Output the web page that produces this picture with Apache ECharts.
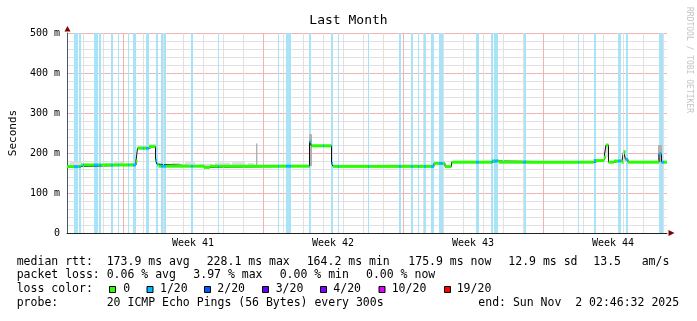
<!DOCTYPE html>
<html>
<head>
<meta charset="utf-8">
<script src="https://cdn.jsdelivr.net/npm/echarts@6/dist/echarts.min.js"></script>
<style>
  html, body { margin: 0; padding: 0; background: #fff; }
  #chart { width: 697px; height: 321px; }
</style>
</head>
<body>
<div id="chart"></div>
<script>
  // x = days since the start of the graph (30 days shown), y = ms
  const medianX = [0, 0.7, 3.45, 3.525, 4.1, 4.425, 4.5, 4.575, 6.85, 7.15, 12.125, 12.225, 13.225, 13.3,
    18.35, 18.9, 19.225, 21.25, 21.6, 26.325, 26.85, 26.95, 27.075, 27.35, 27.75, 27.825, 27.925, 28.05,
    29.6, 29.725, 30]
  const medianY = [166, 170, 180, 212, 216, 182, 172, 167, 164, 167, 228, 218, 174, 166.5,
    174, 166, 177, 180, 177, 181, 189, 220, 177, 180, 177, 203, 184, 177,
    198, 177, 177]

  // periods with 1/20 packet loss
  const lossBands = [[0.35, 0.55], [0.6, 0.7], [0.8, 0.85], [1.35, 1.55], [1.6, 1.7], [2.2, 2.3],
    [2.55, 2.6], [3.05, 3.1], [3.3, 3.45], [3.8, 3.85], [3.95, 4.1], [4.45, 4.55], [4.7, 4.95],
    [6.2, 6.3], [7.55, 7.6], [10.55, 10.6], [10.95, 11.2], [12.1, 12.2], [12.8, 12.85], [13.2, 13.3],
    [13.55, 13.6], [15.05, 15.1], [16.6, 16.7], [17.2, 17.3], [17.55, 17.6], [17.85, 17.95],
    [18.2, 18.35], [18.6, 18.8], [20.45, 20.6], [21.2, 21.3], [21.35, 21.55], [22.8, 22.95],
    [25.55, 25.6], [26.35, 26.45], [27.55, 27.7], [27.95, 28.05], [29.6, 29.85]]

  // smoke: [from, to, top ms, dark]
  const smoke = [[0.15, 0.75, 178, 0], [0.8, 1.15, 174, 0], [1.3, 1.65, 176, 0], [1.9, 2.25, 175, 0],
    [2.35, 2.85, 179, 0], [2.95, 3.3, 175, 0], [3.525, 4.1, 220, 0], [4.1, 4.45, 222, 0],
    [4.55, 5.15, 174, 0], [5.25, 5.65, 176, 0], [5.9, 6.4, 177, 0], [6.65, 7.25, 173, 0],
    [7.4, 8.15, 176, 0], [8.25, 8.9, 177, 0], [9.05, 9.35, 175, 0], [9.45, 9.52, 224, 1],
    [9.65, 10.65, 170, 0], [10.9, 11.9, 170, 0], [12.1, 12.25, 247, 1], [12.25, 13.2, 221, 0],
    [13.65, 15.65, 169, 0], [16.15, 18.15, 171, 0], [19.4, 21.0, 179, 0], [21.8, 23.5, 179, 0],
    [24.0, 26.2, 179, 0], [26.9, 27.1, 222, 0], [27.8, 27.95, 205, 0], [29.55, 29.75, 220, 1]]

  const weekLines = [2.8, 9.8, 16.8, 23.8]
  const weekMid = [6.3, 13.3, 20.3, 27.3]
  const weekNames = ['Week 41', 'Week 42', 'Week 43', 'Week 44']
  const dayLines = []
  for (let d = 0.8; d < 30; d += 1) dayLines.push(Math.round(d * 10) / 10)

  const rttText = ['median rtt:', '173.9 ms avg', '228.1 ms max', '164.2 ms min', '175.9 ms now', '12.9 ms sd', '13.5', 'am/s']
  const lossText = ['packet loss:', '0.06 % avg', '3.97 % max', '0.00 % min', '0.00 % now']
  const lossLabels = ['0', '1/20', '2/20', '3/20', '4/20', '10/20', '19/20']
  const lossColors = ['#26ff00', '#00b8ff', '#0059ff', '#5e00ff', '#7e00ff', '#dd00ff', '#ff0000']
  const probeText = ['probe:', '20 ICMP Echo Pings (56 Bytes) every 300s', 'end: Sun Nov  2 02:46:32 2025']

  const MONO = 'DejaVu Sans Mono'

  function medianAt (x) {
    let v = medianY[0]
    for (let i = 0; i < medianX.length; i++) {
      if (medianX[i] <= x) v = medianY[i]
    }
    return v
  }

  // split each median step where a loss band starts or ends
  const pieces = []
  for (let i = 0; i < medianX.length - 1; i++) {
    const a = medianX[i]
    const b = medianX[i + 1]
    const cuts = [a, b]
    lossBands.forEach(([s, e]) => {
      if (s > a && s < b) cuts.push(s)
      if (e > a && e < b) cuts.push(e)
    })
    cuts.sort((p, q) => p - q)
    for (let k = 0; k < cuts.length - 1; k++) {
      const m = (cuts[k] + cuts[k + 1]) / 2
      const lost = lossBands.some(([s, e]) => m >= s && m <= e) ? 1 : 0
      pieces.push([cuts[k], cuts[k + 1], medianY[i], lost])
    }
  }

  const smokeData = smoke.map(s => [s[0], s[1], s[2], medianAt(s[0]), s[3]])

  // legend block under the plot
  const graphics = []
  const textEl = (text, x, y) => ({
    type: 'text', x: x, y: y, silent: true,
    style: { text: text, font: '11.5px "' + MONO + '"', fill: '#000', textVerticalAlign: 'middle' }
  })
  const rttX = [16.7, 106.7, 206.7, 306.7, 408.3, 508.3, 593.3, 641.7]
  rttText.forEach((t, i) => graphics.push(textEl(t, rttX[i], 262)))
  const lossX = [16.7, 106.7, 193.3, 279.7, 366]
  lossText.forEach((t, i) => graphics.push(textEl(t, lossX[i], 275.5)))
  graphics.push(textEl('loss color:', 16.7, 289.5))
  const swatchX = [109.5, 147, 204.5, 262.5, 320.5, 379, 444.5]
  const swatchLabelX = [123.3, 160, 217.3, 275.7, 333.3, 391.7, 456.7]
  lossLabels.forEach((t, i) => {
    graphics.push({
      type: 'rect', silent: true,
      shape: { x: swatchX[i], y: 286.5, width: 6, height: 6 },
      style: { fill: lossColors[i], stroke: '#000', lineWidth: 1 }
    })
    graphics.push(textEl(t, swatchLabelX[i], 289.5))
  })
  const probeX = [16.7, 106.7, 478.3]
  probeText.forEach((t, i) => graphics.push(textEl(t, probeX[i], 303.5)))
  // axis arrows
  graphics.push({ type: 'polygon', silent: true, shape: { points: [[64.5, 31.5], [70.5, 31.5], [67.5, 26]] }, style: { fill: '#7f0000' } })
  graphics.push({ type: 'polygon', silent: true, shape: { points: [[668.5, 230], [668.5, 236], [674.5, 233]] }, style: { fill: '#7f0000' } })
  // watermark
  graphics.push({
    type: 'text', x: 689, y: 7, rotation: -Math.PI / 2, silent: true,
    style: { text: 'RRDTOOL / TOBI OETIKER', font: '8px "' + MONO + '"', fill: '#c4c4c4', textVerticalAlign: 'middle' }
  })

  const chart = echarts.init(document.getElementById('chart'))
  const option = {
    animation: false,
    backgroundColor: '#fff',
    title: {
      text: 'Last Month',
      left: 'center',
      top: 9,
      textStyle: { fontFamily: MONO, fontSize: 13, fontWeight: 'normal', color: '#000' }
    },
    grid: { left: 67, right: 30, top: 33, bottom: 88 },
    xAxis: {
      type: 'value',
      min: 0,
      max: 30,
      axisLine: { lineStyle: { color: '#222', width: 1 } },
      axisTick: { show: false },
      splitLine: { show: false },
      axisLabel: {
        customValues: weekMid,
        formatter: v => weekNames[weekMid.indexOf(v)] || '',
        fontFamily: MONO,
        fontSize: 10,
        color: '#000',
        margin: 5
      }
    },
    yAxis: {
      type: 'value',
      min: 0,
      max: 500,
      interval: 100,
      name: 'Seconds',
      nameLocation: 'middle',
      nameRotate: 90,
      nameGap: 45,
      nameTextStyle: { fontFamily: MONO, fontSize: 11, color: '#000' },
      axisLine: { show: true, lineStyle: { color: '#4a5866', width: 1 } },
      axisTick: { show: false },
      axisLabel: {
        formatter: v => v === 0 ? '0' : v + ' m',
        fontFamily: MONO,
        fontSize: 10,
        color: '#000',
        margin: 7
      },
      splitLine: { lineStyle: { color: '#eeb4b4', width: 1 } },
      minorTick: { show: false, splitNumber: 5 },
      minorSplitLine: { show: true, lineStyle: { color: '#e0e0e0', width: 1 } }
    },
    graphic: graphics,
    series: [
      {
        // vertical grid
        type: 'line',
        data: [],
        z: 1,
        silent: true,
        markLine: {
          silent: true,
          symbol: ['none', 'none'],
          label: { show: false },
          lineStyle: { color: '#e0e0e0', width: 1, type: 'solid' },
          data: dayLines.filter(d => weekLines.indexOf(d) < 0).map(d => ({ xAxis: d }))
        }
      },
      {
        type: 'line',
        data: [],
        z: 1,
        silent: true,
        markLine: {
          silent: true,
          symbol: ['none', 'none'],
          label: { show: false },
          lineStyle: { color: '#eeb4b4', width: 1, type: 'solid' },
          data: weekLines.map(d => ({ xAxis: d }))
        }
      },
      {
        // loss background bands
        type: 'line',
        data: [],
        z: 2,
        silent: true,
        markArea: {
          silent: true,
          itemStyle: { color: '#a8e3f8' },
          data: lossBands.map(b => [{ xAxis: b[0] }, { xAxis: b[1] }])
        }
      },
      {
        type: 'custom',
        z: 3,
        silent: true,
        clip: true,
        data: smokeData,
        encode: { x: [0, 1], y: [2, 3] },
        renderItem: (params, api) => {
          const a = api.coord([api.value(0), api.value(2)])
          const b = api.coord([api.value(1), api.value(3)])
          return {
            type: 'rect',
            shape: { x: a[0], y: a[1], width: b[0] - a[0], height: b[1] - a[1] },
            style: { fill: api.value(4) ? '#b0b0b0' : '#dedede' }
          }
        }
      },
      {
        type: 'line',
        z: 4,
        silent: true,
        step: 'end',
        symbol: 'none',
        data: medianX.map((x, i) => [x, medianY[i]]),
        lineStyle: { color: '#111', width: 1 }
      },
      {
        type: 'custom',
        z: 5,
        silent: true,
        clip: true,
        data: pieces,
        encode: { x: [0, 1], y: 2 },
        renderItem: (params, api) => {
          const a = api.coord([api.value(0), api.value(2)])
          const b = api.coord([api.value(1), api.value(2)])
          return {
            type: 'rect',
            shape: { x: a[0], y: a[1] - 1.5, width: b[0] - a[0], height: 3 },
            style: { fill: api.value(3) ? '#00b8ff' : '#26ff00' }
          }
        }
      }
    ]
  }
  chart.setOption(option)
</script>
</body>
</html>
